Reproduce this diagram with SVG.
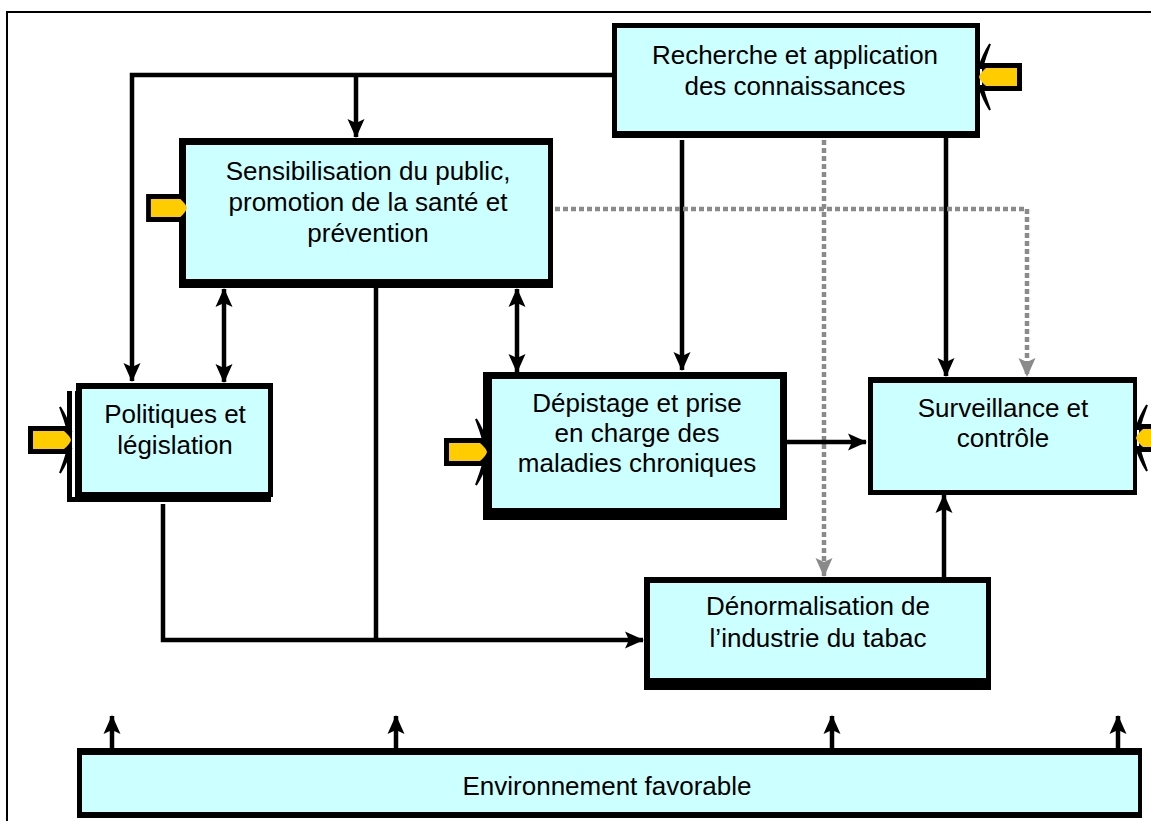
<svg xmlns="http://www.w3.org/2000/svg" width="1151" height="821" viewBox="0 0 1151 821">
<defs>
<style>
.box{fill:#000}
.in{fill:#CCFFFF}
.t{font-family:"Liberation Sans",Arial,sans-serif;font-size:26px;fill:#000;text-anchor:middle}
.c{fill:none;stroke:#000;stroke-width:4.5}
.g{fill:none;stroke:#8a8a8a;stroke-width:4.5;stroke-dasharray:5 3}
.ysh{fill:#000}
.y{fill:#FFCC00}
.w{fill:#000}
</style>
<marker id="ah" markerUnits="userSpaceOnUse" markerWidth="20" markerHeight="20" viewBox="0 0 20 20" refX="18" refY="10" orient="auto-start-reverse">
<path d="M0,1.5 L19,10 L0,18.5 L4,10 Z" fill="#000"/>
</marker>
<marker id="ag" markerUnits="userSpaceOnUse" markerWidth="20" markerHeight="20" viewBox="0 0 20 20" refX="18" refY="10" orient="auto">
<path d="M0,1.5 L19,10 L0,18.5 L4,10 Z" fill="#8a8a8a"/>
</marker>
<g id="yshaft">
<rect x="-42" y="-14" width="40" height="28" class="ysh"/>
<path d="M-37,-9 H-6 Q0,-4 1,0 Q0,4 -6,9 H-37 Z" class="y"/>
</g>
<g id="yarrow">
<use href="#yshaft"/>
<path d="M-10,-33 Q-3,-22 1,-9 L-2,-9 Q-5,-20 -10,-33 Z M-10,33 Q-3,22 1,9 L-2,9 Q-5,20 -10,33 Z" class="w" stroke="#000" stroke-width="2"/>
</g>
</defs>
<rect width="1151" height="821" fill="#fff"/>
<path d="M1151,12 H7 V821" fill="none" stroke="#000" stroke-width="2"/>

<g id="connectors">
<path class="c" d="M613,75 H132 V381" marker-end="url(#ah)"/>
<path class="c" d="M356,75 V137" marker-end="url(#ah)"/>
<path class="c" d="M224,289 V382" marker-start="url(#ah)" marker-end="url(#ah)"/>
<path class="c" d="M517,289 V372" marker-start="url(#ah)" marker-end="url(#ah)"/>
<path class="c" d="M682,140 V370" marker-end="url(#ah)"/>
<path class="c" d="M946,137 V376" marker-end="url(#ah)"/>
<path class="g" d="M824,140 V576" marker-end="url(#ag)"/>
<path class="g" d="M555,209 H1027 V376" marker-end="url(#ag)"/>
<path class="c" d="M787,442 H866" marker-end="url(#ah)"/>
<path class="c" d="M163,504 V640 H643" marker-end="url(#ah)"/>
<path class="c" d="M376,288 V640"/>
<path class="c" d="M944,577 V495" marker-end="url(#ah)"/>
<path class="c" d="M112,750 V716" marker-end="url(#ah)"/>
<path class="c" d="M396,750 V716" marker-end="url(#ah)"/>
<path class="c" d="M832,750 V716" marker-end="url(#ah)"/>
<path class="c" d="M1118,750 V716" marker-end="url(#ah)"/>
</g>

<g id="recherche">
<rect x="612" y="23" width="368" height="115" class="box"/>
<rect x="617" y="28" width="358" height="103" class="in"/>
<text class="t" x="795" y="64">Recherche et application</text>
<text class="t" x="795" y="95">des connaissances</text>
<use href="#yarrow" transform="translate(980,77) scale(-1,1)"/>
</g>

<g id="sensibilisation">
<rect x="179" y="138" width="374" height="150" class="box"/>
<rect x="186" y="145" width="362" height="134" class="in"/>
<text class="t" x="368" y="180">Sensibilisation du public,</text>
<text class="t" x="368" y="211">promotion de la santé et</text>
<text class="t" x="368" y="242">prévention</text>
<use href="#yshaft" transform="translate(186,208) scale(0.95,1)"/>
</g>

<g id="politiques">
<rect x="67" y="391" width="204" height="111" class="box"/>
<rect x="72" y="391" width="3" height="106" fill="#fff"/>
<rect x="76" y="383" width="197" height="114" class="box"/>
<rect x="82" y="389" width="186" height="103" class="in"/>
<text class="t" x="175" y="423">Politiques et</text>
<text class="t" x="175" y="454">législation</text>
<use href="#yarrow" transform="translate(70,440)"/>
</g>

<g id="depistage">
<rect x="483" y="372" width="304" height="148" class="box"/>
<rect x="492" y="379" width="288" height="129" class="in"/>
<text class="t" x="637" y="412">Dépistage et prise</text>
<text class="t" x="637" y="442">en charge des</text>
<text class="t" x="637" y="472">maladies chroniques</text>
<use href="#yarrow" transform="translate(486,452)"/>
</g>

<g id="surveillance">
<rect x="868" y="377" width="269" height="118" class="box"/>
<rect x="873" y="383" width="260" height="107" class="in"/>
<text class="t" x="1003" y="417">Surveillance et</text>
<text class="t" x="1003" y="447">contrôle</text>
<use href="#yarrow" transform="translate(1137,438) scale(-1,1)"/>
</g>

<g id="denormalisation">
<rect x="644" y="577" width="347" height="113" class="box"/>
<rect x="650" y="583" width="336" height="95" class="in"/>
<text class="t" x="818" y="615">Dénormalisation de</text>
<text class="t" x="818" y="647">l’industrie du tabac</text>
</g>

<g id="environnement">
<rect x="77" y="748" width="1065" height="70" class="box"/>
<rect x="82" y="755" width="1056" height="57" class="in"/>
<text class="t" x="607" y="795">Environnement favorable</text>
</g>
</svg>
